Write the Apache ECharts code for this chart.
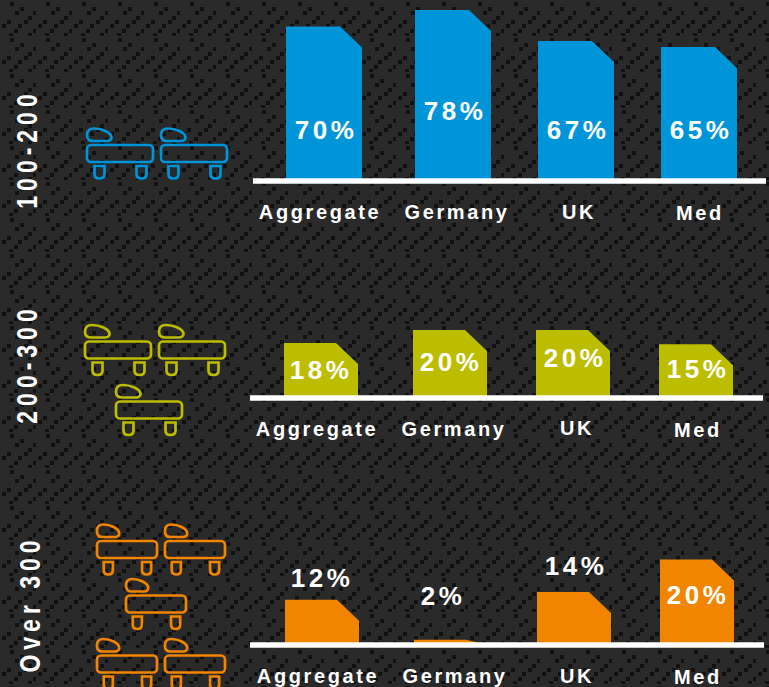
<!DOCTYPE html>
<html>
<head>
<meta charset="utf-8">
<style>
html,body{margin:0;padding:0;background:#2a2a2a;}
#chart{width:769px;height:687px;}
svg text{letter-spacing:3px;}
svg text[style*="bold 26px"]{letter-spacing:3.5px;}
svg text[style*="bold 20px"]{letter-spacing:2.6px;}
svg text[style*="bold 23px"]{letter-spacing:5px;}
</style>
<script src="https://cdn.jsdelivr.net/npm/echarts@6/dist/echarts.min.js"></script>
</head>
<body>
<div id="chart"></div>
<script>
// ---- data ----
var categories = ['Aggregate', 'Germany', 'UK', 'Med'];
var bandNames = ['100-200', '200-300', 'Over 300'];
// Printed percentages
var labels100 = ['70%', '78%', '67%', '65%'];
var labels200 = ['18%', '20%', '20%', '15%'];
var labels300 = ['12%', '2%', '14%', '20%'];
// Drawn bar heights (the picture's bars are not strictly proportional to the printed figures)
var heights100 = [70, 77.5, 63.4, 60.7];
var heights200 = [17.9, 22.1, 22.1, 17.5];
var heights300 = [12.2, 1.4, 14.3, 23.1];

// ---- layout and style ----
var panels = [
  {color:'#0095D9', labels:labels100, values:heights100, name:bandNames[0], nameAt:[27.5,149],
   grid:{left:253,width:513,top:4.5,height:176}, yMax:80, barW:76, barLeft:[286,415,538,661],
   catX:[320,457,579,700], catY:[212,212,212,213], pctX:[326,455,578,701], pctY:[130,111,130,130],
   beds:[[86,127.5],[160,127.5]], bedW:68},
  {color:'#BDBD00', labels:labels200, values:heights200, name:bandNames[1], nameAt:[27,364],
   grid:{left:250,width:513,top:306,height:91.5}, yMax:30, barW:74, barLeft:[284,413,536,659],
   catX:[317,454,577,698], catY:[429,429,428,430], pctX:[321,451,575,698], pctY:[370,362,358,369],
   beds:[[84,324],[158,324],[115,384]], bedW:68},
  {color:'#F28500', labels:labels300, values:heights300, name:bandNames[2], nameAt:[30,604],
   grid:{left:250,width:514,top:534,height:111}, yMax:30, barW:74, barLeft:[285,414,537,660],
   catX:[318,455,577,698], catY:[676,676,676,677], pctX:[322,443,576,698], pctY:[578,596,566,595],
   beds:[[96,523.5],[164,523.5],[125,578],[96,638],[164,638]], bedW:62}
];
var CUT_W = 22, CUT_H = 21, FONT = '"Liberation Sans", Arial, sans-serif';

// Carbon-fibre style backdrop tile
var tileDots = [[10,2],[20,7],[33,11],[15,11],[28,16],[7,20],[24,20],[18,24],[2,24],[33,29],[14,29],[9,33],[28,33]];
function makeTile(){
  var c = document.createElement('canvas'); c.width = c.height = 36;
  var g = c.getContext('2d');
  g.fillStyle = '#2a2a2a'; g.fillRect(0,0,36,36);
  g.fillStyle = '#111111';
  tileDots.forEach(function(d){ g.fillRect(d[0],d[1],4,4); });
  return c.toDataURL();
}

function scalePath(segs, x, y, sx){
  return segs.map(function(s){
    if (typeof s === 'string') return s;
    return (x + s[0]*sx).toFixed(2) + ' ' + (y + s[1]).toFixed(2);
  }).join(' ');
}
var PILLOW = ['M',[8,1],'C',[15,1],[25.5,4.5],[25.5,10],'C',[25.5,12.5],[23,13.5],[21,13.5],'L',[7,13.5],'C',[3,13.5],[1,11],[1,7.5],'C',[1,3.5],[3.5,1],[8,1],'Z'];
var LEG = ['M',[0,0],'L',[10,0],'L',[10,8],'C',[10,11],[8,12.5],[5,12.5],'C',[2,12.5],[0,11],[0,8],'Z'];

function bedElements(pos, w, color){
  var sx = w/68, x = pos[0], y = pos[1];
  var st = {fill:'none', stroke:color, lineWidth:2.7};
  return [
    {type:'path', shape:{pathData:scalePath(PILLOW,x,y,sx)}, style:st},
    {type:'rect', shape:{x:x+1, y:y+17.5, width:w-2, height:17, r:4}, style:st},
    {type:'path', shape:{pathData:scalePath(LEG,x+8.5*sx,y+38.5,sx)}, style:st},
    {type:'path', shape:{pathData:scalePath(LEG,x+50.5*sx,y+38.5,sx)}, style:st}
  ];
}

var graphics = panels.map(function(p){
  return {type:'text', x:p.nameAt[0], y:p.nameAt[1], rotation:Math.PI/2, scaleY:1.25,
    style:{text:p.name, fill:'#fff', font:'bold 23px '+FONT, textAlign:'center', textVerticalAlign:'middle'}};
});

var barSeries = panels.map(function(p,i){ return {
  type:'custom', xAxisIndex:i, yAxisIndex:i, z:2, silent:true, clip:false,
  data: p.values.map(function(v,k){ return [k,v]; }),
  renderItem: function(params, api){
    var k = api.value(0), pt = api.coord([k, api.value(1)]), base = api.coord([k, 0])[1];
    var x = p.barLeft[k], w = p.barW, top = pt[1];
    var corner = Math.min(top + CUT_H, base);
    return {type:'group', children:[
      {type:'polygon', shape:{points:[[x,base],[x,top],[x+w-CUT_W,top],[x+w,corner],[x+w,base]]},
       style:{fill:p.color}},
      {type:'text', x:p.pctX[k], y:p.pctY[k], z2:10,
       style:{text:p.labels[k], fill:'#fff', font:'bold 26px '+FONT, textAlign:'center', textVerticalAlign:'middle'}},
      {type:'text', x:p.catX[k], y:p.catY[k], z2:10,
       style:{text:categories[k], fill:'#fff', font:'bold 20px '+FONT, textAlign:'center', textVerticalAlign:'middle'}}
    ]};
  }
};});

var bedSeries = panels.map(function(p){ return {
  type:'custom', coordinateSystem:'none', silent:true, z:1,
  data: p.beds.map(function(b,k){ return [k]; }),
  renderItem: function(params, api){
    return {type:'group', children: bedElements(p.beds[api.value(0)], p.bedW, p.color)};
  }
};});

var option = {
  backgroundColor: {image: makeTile(), repeat: 'repeat'},
  animation: false,
  grid: panels.map(function(p){ return p.grid; }),
  xAxis: panels.map(function(p,i){ return {
    type:'category', gridIndex:i, data:categories, z:5, boundaryGap:true,
    axisLine:{show:true, lineStyle:{color:'#fff', width:5.5, cap:'butt'}},
    axisTick:{show:false}, axisLabel:{show:false}, splitLine:{show:false}
  };}),
  yAxis: panels.map(function(p,i){ return {
    type:'value', gridIndex:i, min:0, max:p.yMax, show:false, splitLine:{show:false}
  };}),
  graphic: graphics,
  series: barSeries.concat(bedSeries)
};
var chart = echarts.init(document.getElementById('chart'), null, {renderer:'svg'});
chart.setOption(option);
</script>
</body>
</html>
